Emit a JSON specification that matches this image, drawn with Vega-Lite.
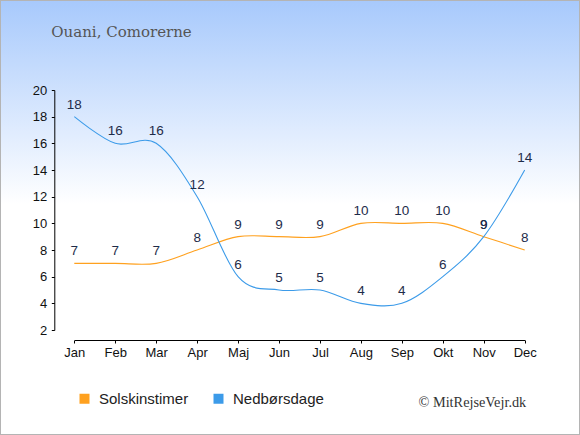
{
  "$schema": "https://vega.github.io/schema/vega-lite/v6.json",
  "width": 580,
  "height": 435,
  "autosize": {"type": "none"},
  "padding": 0,
  "background": "#ffffff",
  "view": {
    "fill": {
      "gradient": "linear",
      "x1": 0, "y1": 0, "x2": 0, "y2": 1,
      "stops": [
        {"offset": 0, "color": "#a7c9fc"},
        {"offset": 0.47, "color": "#ffffff"},
        {"offset": 1, "color": "#ffffff"}
      ]
    },
    "stroke": "#b4b4b4",
    "strokeWidth": 2
  },
  "data": {
    "values": [
      {"month": "Jan", "series": "Solskinstimer", "value": 7},
      {"month": "Feb", "series": "Solskinstimer", "value": 7},
      {"month": "Mar", "series": "Solskinstimer", "value": 7},
      {"month": "Apr", "series": "Solskinstimer", "value": 8},
      {"month": "Maj", "series": "Solskinstimer", "value": 9},
      {"month": "Jun", "series": "Solskinstimer", "value": 9},
      {"month": "Jul", "series": "Solskinstimer", "value": 9},
      {"month": "Aug", "series": "Solskinstimer", "value": 10},
      {"month": "Sep", "series": "Solskinstimer", "value": 10},
      {"month": "Okt", "series": "Solskinstimer", "value": 10},
      {"month": "Nov", "series": "Solskinstimer", "value": 9},
      {"month": "Dec", "series": "Solskinstimer", "value": 8},
      {"month": "Jan", "series": "Nedbørsdage", "value": 18},
      {"month": "Feb", "series": "Nedbørsdage", "value": 16},
      {"month": "Mar", "series": "Nedbørsdage", "value": 16},
      {"month": "Apr", "series": "Nedbørsdage", "value": 12},
      {"month": "Maj", "series": "Nedbørsdage", "value": 6},
      {"month": "Jun", "series": "Nedbørsdage", "value": 5},
      {"month": "Jul", "series": "Nedbørsdage", "value": 5},
      {"month": "Aug", "series": "Nedbørsdage", "value": 4},
      {"month": "Sep", "series": "Nedbørsdage", "value": 4},
      {"month": "Okt", "series": "Nedbørsdage", "value": 6},
      {"month": "Nov", "series": "Nedbørsdage", "value": 9},
      {"month": "Dec", "series": "Nedbørsdage", "value": 14}
    ]
  },
  "encoding": {
    "x": {
      "field": "month",
      "type": "ordinal",
      "sort": ["Jan", "Feb", "Mar", "Apr", "Maj", "Jun", "Jul", "Aug", "Sep", "Okt", "Nov", "Dec"],
      "scale": {"type": "point", "range": [74.3, 524.7], "padding": 0},
      "axis": {
        "title": "© MitRejseVejr.dk",
        "titleFont": "Liberation Serif",
        "titleFontSize": 14.3,
        "titleFontWeight": "normal",
        "titleColor": "#333333",
        "titleAlign": "left",
        "titleBaseline": "alphabetic",
        "titleAnchor": "start",
        "titleX": 418,
        "titleY": 66,
        "offset": -95,
        "labelAngle": 0,
        "labelFont": "Liberation Sans",
        "labelFontSize": 13,
        "labelColor": "#111111",
        "labelPadding": 3,
        "tickSize": 3,
        "tickColor": "#000000",
        "domainColor": "#000000",
        "grid": false
      }
    },
    "y": {
      "field": "value",
      "type": "quantitative",
      "scale": {"domain": [2, 20], "range": [330, 90], "nice": false, "zero": false},
      "axis": {
        "title": "Ouani, Comorerne",
        "titleFont": "DejaVu Serif",
        "titleFontSize": 15,
        "titleFontWeight": "normal",
        "titleColor": "#555555",
        "titleAngle": 0,
        "titleAlign": "left",
        "titleBaseline": "alphabetic",
        "titleX": -3.5,
        "titleY": 36.5,
        "offset": -54.3,
        "values": [2, 4, 6, 8, 10, 12, 14, 16, 18, 20],
        "labelFont": "Liberation Sans",
        "labelFontSize": 13,
        "labelColor": "#111111",
        "labelPadding": 4.5,
        "tickSize": 3,
        "tickColor": "#000000",
        "domainColor": "#000000",
        "grid": false
      }
    }
  },
  "layer": [
    {
      "mark": {"type": "line", "interpolate": "cardinal", "tension": 0, "strokeWidth": 1.1},
      "encoding": {
        "color": {
          "field": "series",
          "type": "nominal",
          "sort": ["Solskinstimer", "Nedbørsdage"],
          "scale": {"domain": ["Solskinstimer", "Nedbørsdage"], "range": ["#ffa11f", "#3c9be9"]},
          "legend": {
            "orient": "none",
            "legendX": 77,
            "legendY": 391,
            "direction": "horizontal",
            "title": null,
            "padding": 0,
            "symbolType": "square",
            "symbolSize": 100,
            "symbolStrokeWidth": 0,
            "labelFont": "Liberation Sans",
            "labelFontSize": 15,
            "labelColor": "#222222",
            "labelOffset": 7,
            "columnPadding": 22,
            "encode": {
              "symbols": {
                "update": {
                  "fill": {"scale": "color", "field": "value"},
                  "fillOpacity": {"value": 1}
                }
              }
            }
          }
        }
      }
    },
    {
      "mark": {
        "type": "text",
        "dy": -8,
        "baseline": "alphabetic",
        "font": "Liberation Sans",
        "fontSize": 13.5,
        "color": "#1e2c4a"
      },
      "encoding": {
        "text": {"field": "value", "type": "quantitative"}
      }
    }
  ]
}
